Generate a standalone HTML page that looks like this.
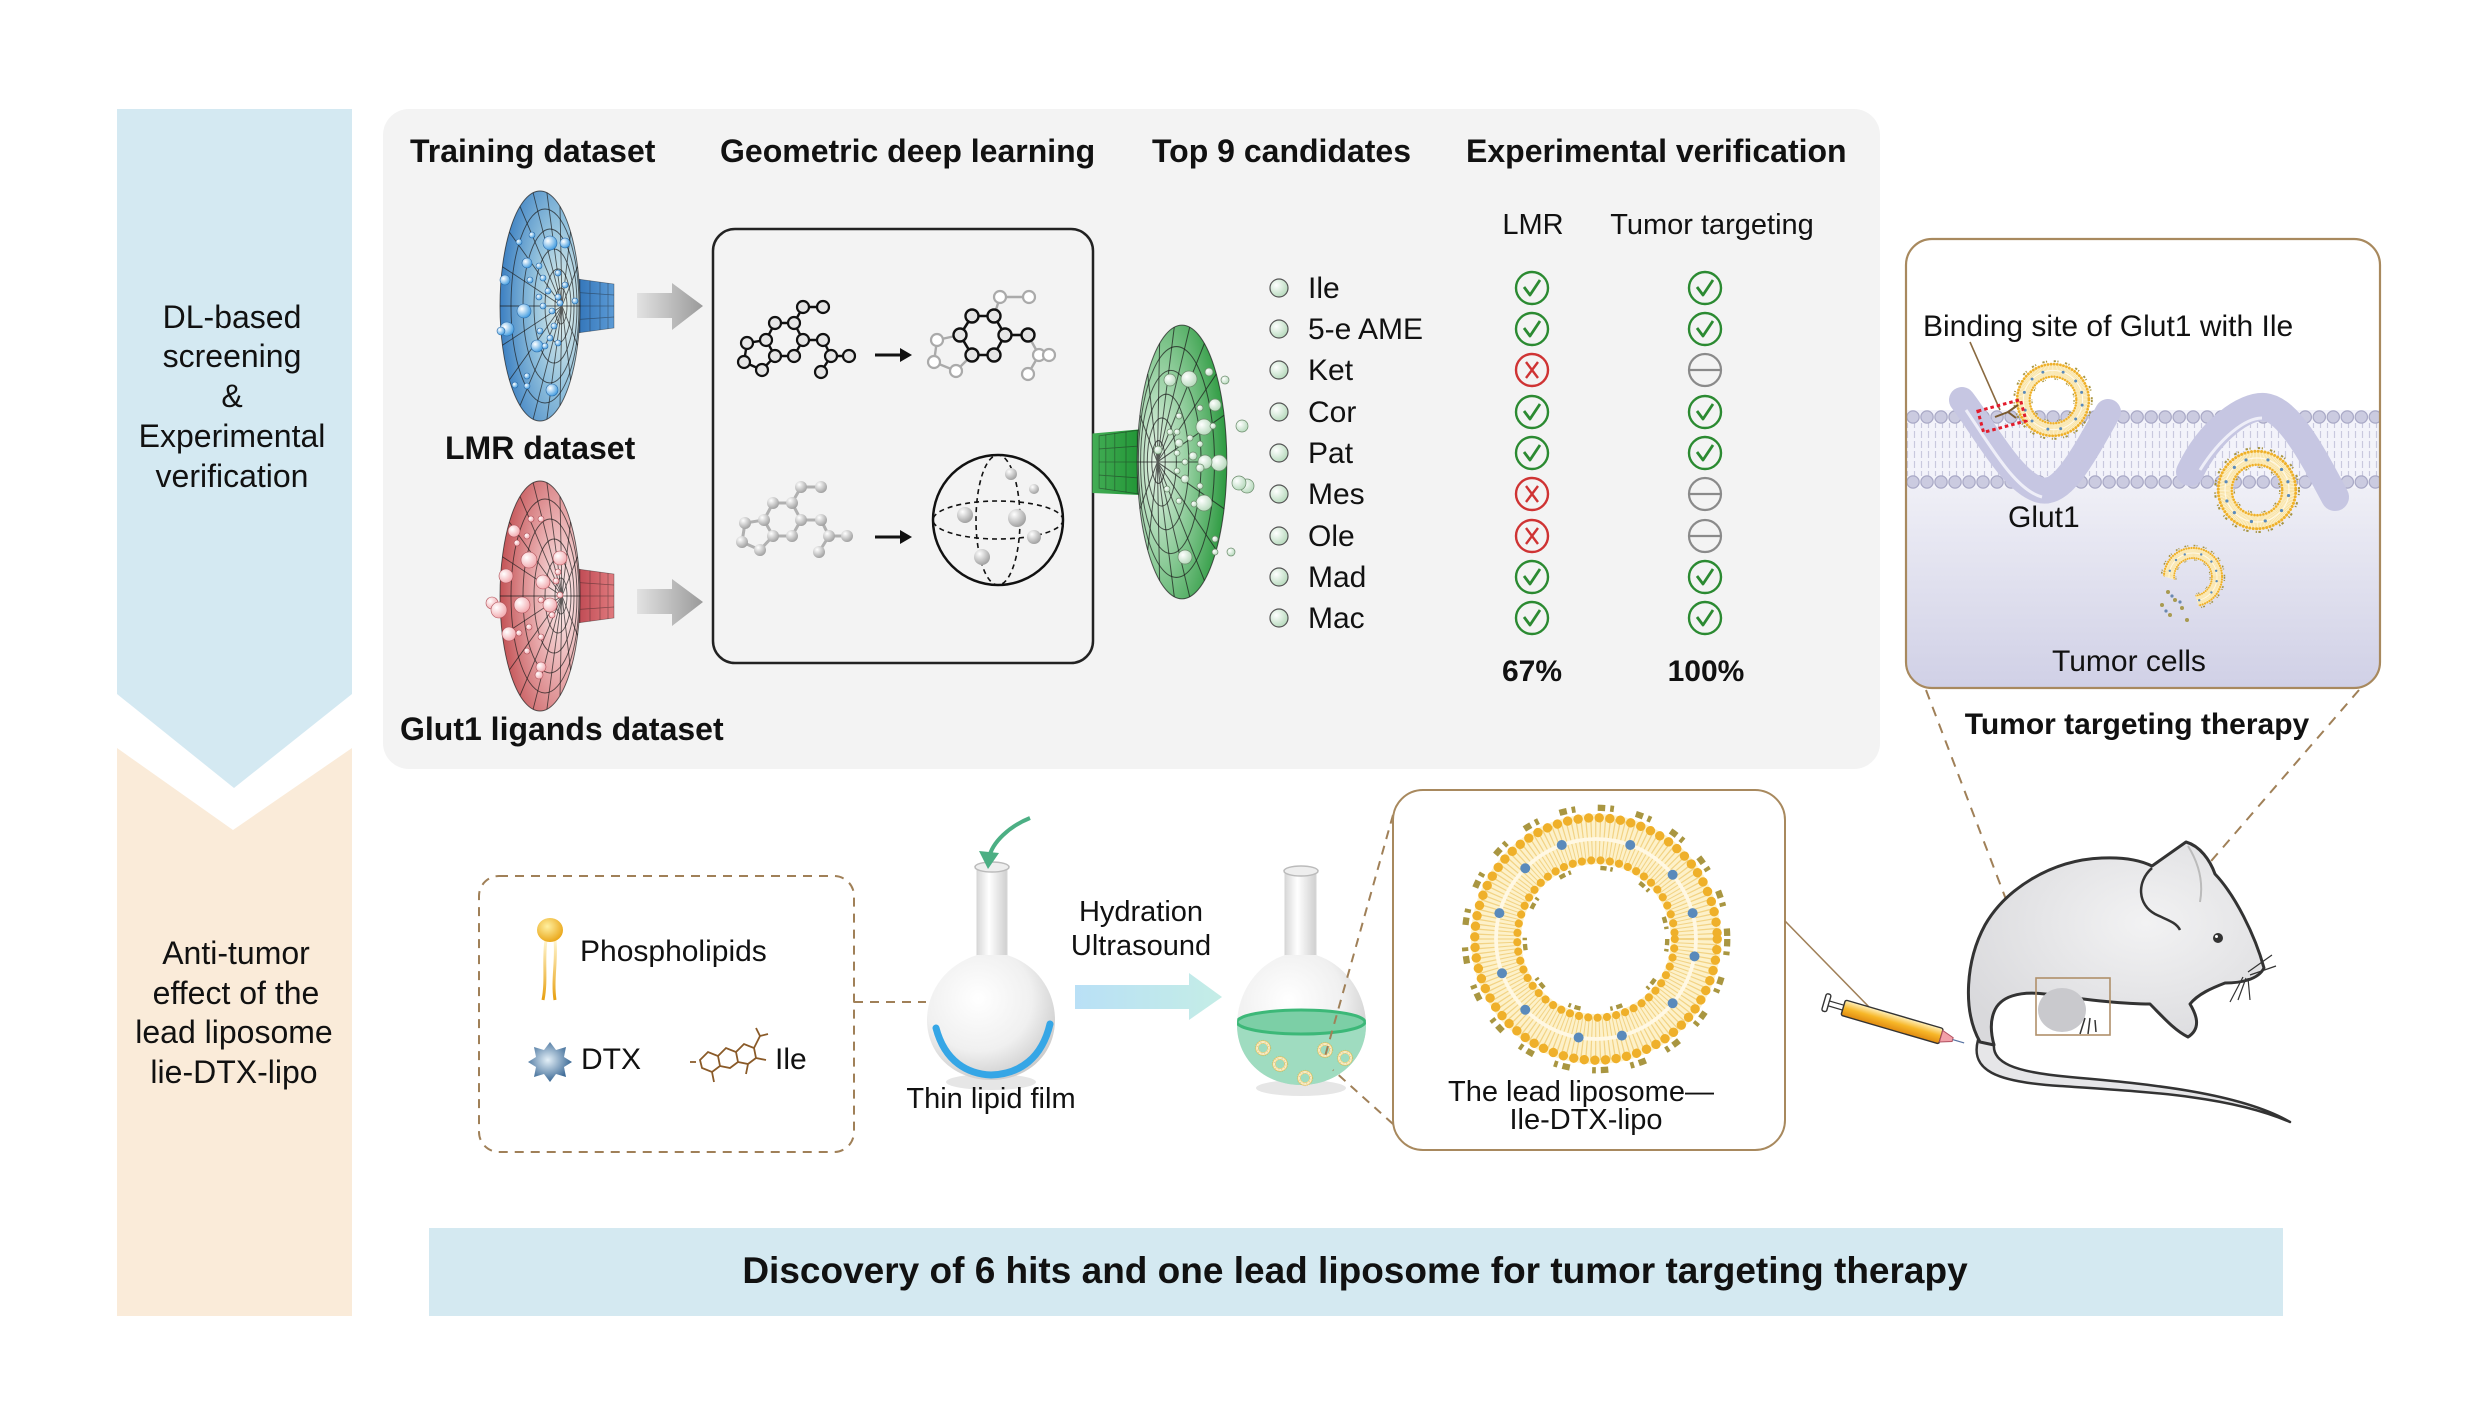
<!DOCTYPE html>
<html><head><meta charset="utf-8"><style>
html,body{margin:0;padding:0;background:#fff;}
svg{display:block;}
text{font-family:"Liberation Sans",Arial,sans-serif;fill:#111;}
.h{font-weight:bold;font-size:32px;}
.r30{font-size:30px;}
.r29{font-size:29px;}
</style></head><body>
<svg width="2482" height="1404" viewBox="0 0 2482 1404" xmlns="http://www.w3.org/2000/svg">
<defs>
  <radialGradient id="gBlue" cx="0.78" cy="0.5" r="0.85"><stop offset="0" stop-color="#e6f2ec"/><stop offset="0.45" stop-color="#8fbfdc"/><stop offset="1" stop-color="#2d74bd"/></radialGradient>
  <radialGradient id="gRed" cx="0.78" cy="0.5" r="0.85"><stop offset="0" stop-color="#fdf0f0"/><stop offset="0.45" stop-color="#e6a4a6"/><stop offset="1" stop-color="#bd4447"/></radialGradient>
  <radialGradient id="gGreen" cx="0.78" cy="0.5" r="0.85"><stop offset="0" stop-color="#e6f3e8"/><stop offset="0.45" stop-color="#8ccb98"/><stop offset="1" stop-color="#1b9130"/></radialGradient>
  <linearGradient id="tBlue" x1="0" x2="1"><stop offset="0" stop-color="#2a6db3"/><stop offset="1" stop-color="#5c9bd6"/></linearGradient>
  <linearGradient id="tRed" x1="0" x2="1"><stop offset="0" stop-color="#b8404a"/><stop offset="1" stop-color="#e07a7e"/></linearGradient>
  <linearGradient id="tGreen" x1="0" x2="1"><stop offset="0" stop-color="#1b9130"/><stop offset="1" stop-color="#43ad55"/></linearGradient>
  <radialGradient id="bB" cx="0.35" cy="0.35" r="0.7"><stop offset="0" stop-color="#ffffff"/><stop offset="1" stop-color="#3f9be0"/></radialGradient>
  <radialGradient id="bR" cx="0.35" cy="0.35" r="0.7"><stop offset="0" stop-color="#ffffff"/><stop offset="1" stop-color="#f2a8ad"/></radialGradient>
  <radialGradient id="bG" cx="0.35" cy="0.35" r="0.7"><stop offset="0" stop-color="#ffffff"/><stop offset="1" stop-color="#b5d9bb"/></radialGradient>
  <radialGradient id="ball" cx="0.35" cy="0.3" r="0.75"><stop offset="0" stop-color="#ffffff"/><stop offset="1" stop-color="#9c9c9c"/></radialGradient>
  <linearGradient id="garrow" x1="0" x2="1"><stop offset="0" stop-color="#e2e2e2"/><stop offset="1" stop-color="#9a9a9a"/></linearGradient>
  <linearGradient id="cellBg" x1="0" y1="0" x2="0" y2="1"><stop offset="0" stop-color="#efeff6"/><stop offset="1" stop-color="#d0d0e6"/></linearGradient>
  <pattern id="tails" width="7" height="10" patternUnits="userSpaceOnUse"><line x1="3.5" y1="1" x2="3.5" y2="8" stroke="#c9c9de" stroke-width="1.2"/></pattern>
  <radialGradient id="flaskG" cx="0.4" cy="0.35" r="0.7"><stop offset="0" stop-color="#ffffff"/><stop offset="0.6" stop-color="#f0f0f0"/><stop offset="1" stop-color="#c9c9c9"/></radialGradient>
  <linearGradient id="neckG" x1="0" x2="1"><stop offset="0" stop-color="#d8d8d8"/><stop offset="0.4" stop-color="#ffffff"/><stop offset="1" stop-color="#cfcfcf"/></linearGradient>
  <linearGradient id="blueArrow" x1="0" x2="1"><stop offset="0" stop-color="#b9e0f6"/><stop offset="1" stop-color="#c4ede6"/></linearGradient>
  <radialGradient id="headG" cx="0.4" cy="0.35" r="0.7"><stop offset="0" stop-color="#fff0a0"/><stop offset="1" stop-color="#e9a313"/></radialGradient>
  <linearGradient id="tailG" x1="0" y1="0" x2="0" y2="1"><stop offset="0" stop-color="#fff6d0"/><stop offset="1" stop-color="#e8a010"/></linearGradient>
  <radialGradient id="dtxG" cx="0.45" cy="0.45" r="0.6"><stop offset="0" stop-color="#e4f0f8"/><stop offset="1" stop-color="#2b5c8c"/></radialGradient>
  <linearGradient id="syrG" x1="0" y1="0" x2="0" y2="1"><stop offset="0" stop-color="#fff2c0"/><stop offset="0.5" stop-color="#f7b728"/><stop offset="1" stop-color="#e08a10"/></linearGradient>
  <radialGradient id="mouseG" cx="0.6" cy="0.4" r="0.7"><stop offset="0" stop-color="#f2f2f3"/><stop offset="1" stop-color="#d9d9dc"/></radialGradient>

  <g id="grid" fill="none" stroke="#1a1a1a" stroke-width="0.9" stroke-opacity="0.7">
    <ellipse cx="0" cy="0" rx="40" ry="115"/>
    <ellipse cx="5" cy="0" rx="34" ry="97"/>
    <ellipse cx="10" cy="0" rx="27" ry="77"/>
    <ellipse cx="14" cy="0" rx="20" ry="57"/>
    <ellipse cx="18" cy="0" rx="13" ry="37"/>
    <ellipse cx="21" cy="0" rx="6" ry="18"/>
    <path d="M22,0L40,0M22,0L37.6,39.3M22,0L30.6,73.9M22,0L20,99.6M22,0L6.9,113.3M22,0L-6.9,113.3M22,0L-20,99.6M22,0L-30.6,73.9M22,0L-37.6,39.3M22,0L-40,0M22,0L-37.6,-39.3M22,0L-30.6,-73.9M22,0L-20,-99.6M22,0L-6.9,-113.3M22,0L6.9,-113.3M22,0L20,-99.6M22,0L30.6,-73.9M22,0L37.6,-39.3"/>
  </g>
  <g id="tgrid" fill="none" stroke="#1a1a1a" stroke-width="0.7" stroke-opacity="0.45">
    <path d="M30,-28L74,-22L74,22L30,28Z"/>
    <path d="M40,-27L40,27M50,-25.5L50,25.5M60,-24L60,24M68,-23L68,23M30,-14L74,-11M30,0L74,0M30,14L74,11"/>
  </g>

  <g id="ok"><circle r="16" fill="none" stroke="#2b8a31" stroke-width="2.4"/><path d="M-8,-1L-2,7L8,-8" fill="none" stroke="#2b8a31" stroke-width="2.8" stroke-linejoin="round"/></g>
  <g id="no"><circle r="16" fill="none" stroke="#cf3333" stroke-width="2.4"/><path d="M-6,-8L6,8M6,-8L-6,8" fill="none" stroke="#cf3333" stroke-width="2.4"/></g>
  <g id="na"><circle r="16" fill="none" stroke="#8a8a8a" stroke-width="2.2"/><path d="M-16,0L16,0" stroke="#8a8a8a" stroke-width="2.2"/></g>

  <g id="molB">
    <path d="M747,343L744,362L762,370L775,356L766,340Z M766,340L775,323L794,323L803,340L794,356L775,356 M794,323L803,307L823,307 M803,340L823,340L831,356L849,356 M831,356L821,372"/>
  </g>
  <g id="molA">
    <circle cx="747" cy="343" r="6"/><circle cx="744" cy="362" r="6"/><circle cx="762" cy="370" r="6"/><circle cx="775" cy="356" r="6"/><circle cx="766" cy="340" r="6"/><circle cx="775" cy="323" r="6"/><circle cx="794" cy="323" r="6"/><circle cx="803" cy="340" r="6"/><circle cx="794" cy="356" r="6"/><circle cx="803" cy="307" r="6"/><circle cx="823" cy="307" r="6"/><circle cx="823" cy="340" r="6"/><circle cx="831" cy="356" r="6"/><circle cx="849" cy="356" r="6"/><circle cx="821" cy="372" r="6"/>
  </g>

  <g id="lipo">
    <circle r="80" fill="none" stroke="#fdf1c9" stroke-width="40"/>
    <circle r="80" fill="none" stroke="#eab94a" stroke-width="34" stroke-dasharray="0.9 2.4" stroke-opacity="0.55"/>
    <circle r="80" fill="none" stroke="#fff8e4" stroke-width="3"/>
    <circle r="97" fill="none" stroke="#efb02a" stroke-width="7.5" stroke-dasharray="0.01 8.5" stroke-linecap="round"/>
    <circle r="63" fill="none" stroke="#efb02a" stroke-width="6.5" stroke-dasharray="0.01 7.5" stroke-linecap="round"/>
    <circle r="105" fill="none" stroke="#9a8420" stroke-width="5" stroke-dasharray="6 4 3 18" stroke-opacity="0.85"/>
    <circle r="57" fill="none" stroke="#9a8420" stroke-width="3.5" stroke-dasharray="5 3 2 24" stroke-opacity="0.85"/>
    <g fill="#5a8abb"><circle cx="78.8" cy="13.9" r="4"/><circle cx="61.3" cy="51.4" r="4"/><circle cx="20.7" cy="77.3" r="4"/><circle cx="-13.9" cy="78.8" r="4"/><circle cx="-56.6" cy="56.6" r="4"/><circle cx="-75.2" cy="27.4" r="4"/><circle cx="-77.3" cy="-20.7" r="4"/><circle cx="-56.6" cy="-56.6" r="4"/><circle cx="-27.4" cy="-75.2" r="4"/><circle cx="27.4" cy="-75.2" r="4"/><circle cx="61.3" cy="-51.4" r="4"/><circle cx="77.3" cy="-20.7" r="4"/></g>
  </g>

  <clipPath id="cellClip"><rect x="1906" y="239" width="474" height="449" rx="26"/></clipPath>
  <clipPath id="brokenClip"><path d="M2150,535L2240,535L2240,625L2205,625L2192,585L2150,572Z"/></clipPath>
  <clipPath id="bulb2"><path d="M1285,955 C1255,965 1237,995 1237,1025 C1237,1060 1265,1085 1301,1085 C1337,1085 1366,1060 1366,1025 C1366,995 1347,965 1316,955 Z"/></clipPath>
</defs>

<!-- left bands -->
<polygon points="117,109 352,109 352,694 234,788 117,694" fill="#d4e9f2"/>
<polygon points="117,748 233,830 352,748 352,1316 117,1316" fill="#faebd9"/>
<g text-anchor="middle" style="font-size:32px">
  <text x="232" y="328">DL-based</text>
  <text x="232" y="367">screening</text>
  <text x="232" y="407">&amp;</text>
  <text x="232" y="447">Experimental</text>
  <text x="232" y="487">verification</text>
</g>
<g text-anchor="middle" style="font-size:32px">
  <text x="236" y="964">Anti-tumor</text>
  <text x="236" y="1004">effect of the</text>
  <text x="234" y="1043">lead liposome</text>
  <text x="234" y="1083">lie-DTX-lipo</text>
</g>

<!-- gray panel -->
<rect x="383" y="109" width="1497" height="660" rx="26" fill="#f3f3f3"/>
<text class="h" x="410" y="162">Training dataset</text>
<text class="h" x="720" y="162">Geometric deep learning</text>
<text class="h" x="1152" y="162">Top 9 candidates</text>
<text class="h" x="1466" y="162">Experimental verification</text>
<text class="r29" x="1533" y="234" text-anchor="middle">LMR</text>
<text class="r29" x="1712" y="234" text-anchor="middle">Tumor targeting</text>

<!-- blue funnel -->
<g transform="translate(540,306)">
  <path d="M30,-28L74,-22L74,22L30,28Z" fill="url(#tBlue)"/>
  <use href="#tgrid"/>
  <ellipse rx="40" ry="115" fill="url(#gBlue)"/>
  <use href="#grid"/>
</g>
<g fill="url(#bB)" stroke="#2a6aa8" stroke-width="0.6">
  <circle cx="550" cy="243" r="7"/><circle cx="565" cy="243" r="5"/><circle cx="532" cy="235" r="3"/><circle cx="519" cy="242" r="3"/><circle cx="527" cy="263" r="5"/><circle cx="539" cy="266" r="3"/><circle cx="558" cy="273" r="3"/><circle cx="505" cy="280" r="5"/><circle cx="530" cy="280" r="3"/><circle cx="543" cy="278" r="3"/><circle cx="565" cy="285" r="3"/><circle cx="548" cy="291" r="3"/><circle cx="539" cy="297" r="3"/><circle cx="558" cy="297" r="3"/><circle cx="575" cy="301" r="3"/><circle cx="560" cy="303" r="3"/><circle cx="543" cy="306" r="3"/><circle cx="524" cy="311" r="7"/><circle cx="552" cy="311" r="3"/><circle cx="507" cy="329" r="7"/><circle cx="501" cy="331" r="4"/><circle cx="540" cy="331" r="3"/><circle cx="554" cy="326" r="3"/><circle cx="550" cy="338" r="3"/><circle cx="537" cy="346" r="6"/><circle cx="545" cy="346" r="3"/><circle cx="558" cy="343" r="3"/><circle cx="527" cy="376" r="3"/><circle cx="515" cy="385" r="3"/><circle cx="527" cy="386" r="3"/><circle cx="552" cy="390" r="6"/>
</g>
<text class="h" x="445" y="459">LMR dataset</text>

<!-- red funnel -->
<g transform="translate(540,596)">
  <path d="M30,-28L74,-22L74,22L30,28Z" fill="url(#tRed)"/>
  <use href="#tgrid"/>
  <ellipse rx="40" ry="115" fill="url(#gRed)"/>
  <use href="#grid"/>
</g>
<g fill="url(#bR)" stroke="#b05058" stroke-width="0.6">
  <circle cx="531" cy="519" r="3"/><circle cx="541" cy="519" r="3"/><circle cx="514" cy="531" r="6"/><circle cx="527" cy="536" r="3"/><circle cx="517" cy="543" r="3"/><circle cx="506" cy="576" r="7"/><circle cx="529" cy="560" r="8"/><circle cx="560" cy="558" r="7"/><circle cx="543" cy="582" r="7"/><circle cx="556" cy="581" r="3"/><circle cx="558" cy="572" r="3"/><circle cx="492" cy="603" r="6"/><circle cx="499" cy="610" r="8"/><circle cx="522" cy="605" r="8"/><circle cx="550" cy="605" r="7"/><circle cx="541" cy="600" r="3"/><circle cx="560" cy="595" r="3"/><circle cx="529" cy="627" r="3"/><circle cx="509" cy="634" r="7"/><circle cx="519" cy="633" r="3"/><circle cx="541" cy="637" r="3"/><circle cx="552" cy="615" r="3"/><circle cx="527" cy="651" r="3"/><circle cx="541" cy="667" r="5"/><circle cx="539" cy="675" r="4"/>
</g>
<text class="h" x="400" y="740">Glut1 ligands dataset</text>

<!-- gray arrows -->
<polygon points="637,293 672,293 672,283 703,306 672,330 672,318 637,318" fill="url(#garrow)"/>
<polygon points="637,589 672,589 672,579 703,602 672,626 672,614 637,614" fill="url(#garrow)"/>

<!-- GDL box -->
<rect x="713" y="229" width="380" height="434" rx="22" fill="none" stroke="#222" stroke-width="2.5"/>
<use href="#molB" fill="none" stroke="#111" stroke-width="2.4"/>
<use href="#molA" fill="#e6e6e6" stroke="#111" stroke-width="2.2"/>
<g fill="none" stroke="#aaa" stroke-width="2.4">
  <path d="M960,335L937,340L934,362L956,371L972,355 M994,316L1000,297L1029,297 M1005,335L1028,335L1039,355L1049,355 M1039,355L1028,374"/>
</g>
<g fill="#fff" stroke="#aaa" stroke-width="2.2">
  <circle cx="1000" cy="297" r="6"/><circle cx="1029" cy="297" r="6"/><circle cx="937" cy="340" r="6"/><circle cx="934" cy="362" r="6"/><circle cx="956" cy="371" r="6"/><circle cx="1039" cy="355" r="6"/><circle cx="1049" cy="355" r="6"/><circle cx="1028" cy="374" r="6"/>
</g>
<g fill="none" stroke="#111" stroke-width="2.6"><path d="M972,316L994,316L1005,335L994,355L972,355L960,335Z M1005,335L1028,335"/></g>
<g fill="#e6e6e6" stroke="#111" stroke-width="2.4">
  <circle cx="972" cy="316" r="6.5"/><circle cx="994" cy="316" r="6.5"/><circle cx="1005" cy="335" r="6.5"/><circle cx="994" cy="355" r="6.5"/><circle cx="972" cy="355" r="6.5"/><circle cx="960" cy="335" r="6.5"/><circle cx="1028" cy="335" r="6.5"/>
</g>
<g stroke="#111" stroke-width="3"><line x1="875" y1="355" x2="902" y2="355"/><line x1="875" y1="537" x2="902" y2="537"/></g>
<polygon points="900,348 912,355 900,362" fill="#111"/><polygon points="900,530 912,537 900,544" fill="#111"/>
<g transform="translate(-2,180)">
  <use href="#molB" fill="none" stroke="#b0b0b0" stroke-width="3"/>
  <use href="#molA" fill="url(#ball)" stroke="none"/>
</g>
<circle cx="998" cy="520" r="65" fill="none" stroke="#111" stroke-width="2.5"/>
<ellipse cx="998" cy="520" rx="65" ry="19" fill="none" stroke="#111" stroke-width="1.6" stroke-dasharray="5 4"/>
<ellipse cx="998" cy="520" rx="22" ry="65" fill="none" stroke="#111" stroke-width="1.6" stroke-dasharray="5 4"/>
<g fill="url(#ball)"><circle cx="1011" cy="474" r="6"/><circle cx="1034" cy="489" r="5"/><circle cx="965" cy="515" r="8"/><circle cx="1017" cy="518" r="9"/><circle cx="1034" cy="537" r="7"/><circle cx="982" cy="557" r="8"/></g>

<!-- green funnel -->
<g transform="translate(1182,462) scale(-1.12,1.19)">
  <path d="M30,-28L80,-24L80,26L30,28Z" fill="url(#tGreen)"/>
  <use href="#tgrid"/>
  <ellipse rx="40" ry="115" fill="url(#gGreen)"/>
  <use href="#grid"/>
</g>
<g fill="url(#bG)" stroke="#6a8a6a" stroke-width="0.7">
  <circle cx="1170" cy="380" r="6"/><circle cx="1189" cy="379" r="8"/><circle cx="1209" cy="372" r="4"/><circle cx="1225" cy="380" r="4"/><circle cx="1215" cy="405" r="6"/><circle cx="1200" cy="408" r="3"/><circle cx="1179" cy="416" r="3"/><circle cx="1204" cy="427" r="8"/><circle cx="1242" cy="426" r="6"/><circle cx="1213" cy="426" r="3"/><circle cx="1170" cy="432" r="3"/><circle cx="1177" cy="432" r="3"/><circle cx="1190" cy="438" r="3"/><circle cx="1179" cy="443" r="4"/><circle cx="1158" cy="450" r="4"/><circle cx="1200" cy="444" r="3"/><circle cx="1177" cy="453" r="3"/><circle cx="1193" cy="456" r="4"/><circle cx="1219" cy="463" r="8"/><circle cx="1205" cy="462" r="7"/><circle cx="1185" cy="462" r="3"/><circle cx="1200" cy="468" r="4"/><circle cx="1177" cy="471" r="3"/><circle cx="1185" cy="479" r="4"/><circle cx="1247" cy="486" r="7"/><circle cx="1239" cy="483" r="7"/><circle cx="1200" cy="486" r="3"/><circle cx="1167" cy="489" r="3"/><circle cx="1204" cy="503" r="8"/><circle cx="1194" cy="504" r="3"/><circle cx="1179" cy="501" r="3"/><circle cx="1215" cy="539" r="3"/><circle cx="1215" cy="552" r="3"/><circle cx="1231" cy="552" r="4"/><circle cx="1185" cy="557" r="7"/>
</g>

<!-- candidate list -->
<g fill="url(#bG)" stroke="#555" stroke-width="1.2">
  <circle cx="1279" cy="288" r="9"/><circle cx="1279" cy="329" r="9"/><circle cx="1279" cy="370" r="9"/><circle cx="1279" cy="412" r="9"/><circle cx="1279" cy="453" r="9"/><circle cx="1279" cy="494" r="9"/><circle cx="1279" cy="536" r="9"/><circle cx="1279" cy="577" r="9"/><circle cx="1279" cy="618" r="9"/>
</g>
<g class="r30">
  <text x="1308" y="298">Ile</text>
  <text x="1308" y="339">5-e AME</text>
  <text x="1308" y="380">Ket</text>
  <text x="1308" y="422">Cor</text>
  <text x="1308" y="463">Pat</text>
  <text x="1308" y="504">Mes</text>
  <text x="1308" y="546">Ole</text>
  <text x="1308" y="587">Mad</text>
  <text x="1308" y="628">Mac</text>
</g>
<use href="#ok" transform="translate(1532,288)"/><use href="#ok" transform="translate(1705,288)"/>
<use href="#ok" transform="translate(1532,329)"/><use href="#ok" transform="translate(1705,329)"/>
<use href="#no" transform="translate(1532,370)"/><use href="#na" transform="translate(1705,370)"/>
<use href="#ok" transform="translate(1532,412)"/><use href="#ok" transform="translate(1705,412)"/>
<use href="#ok" transform="translate(1532,453)"/><use href="#ok" transform="translate(1705,453)"/>
<use href="#no" transform="translate(1532,494)"/><use href="#na" transform="translate(1705,494)"/>
<use href="#no" transform="translate(1532,536)"/><use href="#na" transform="translate(1705,536)"/>
<use href="#ok" transform="translate(1532,577)"/><use href="#ok" transform="translate(1705,577)"/>
<use href="#ok" transform="translate(1532,618)"/><use href="#ok" transform="translate(1705,618)"/>
<text x="1532" y="681" text-anchor="middle" style="font-weight:bold;font-size:30px">67%</text>
<text x="1706" y="681" text-anchor="middle" style="font-weight:bold;font-size:30px">100%</text>

<!-- right cell box -->
<g clip-path="url(#cellClip)">
  <rect x="1906" y="239" width="474" height="449" fill="#fff"/>
  <rect x="1906" y="488" width="474" height="200" fill="url(#cellBg)"/>
  <rect x="1906" y="410" width="474" height="78" fill="#f3f3fa"/>
  <rect x="1906" y="423" width="474" height="53" fill="url(#tails)"/>
  <line x1="1913" y1="417" x2="2380" y2="417" stroke="#a9a9c6" stroke-width="13.5" stroke-dasharray="0.01 14" stroke-linecap="round"/>
  <line x1="1913" y1="417" x2="2380" y2="417" stroke="#cbcbe0" stroke-width="11" stroke-dasharray="0.01 14" stroke-linecap="round"/>
  <line x1="1913" y1="482" x2="2380" y2="482" stroke="#a9a9c6" stroke-width="13.5" stroke-dasharray="0.01 14" stroke-linecap="round"/>
  <line x1="1913" y1="482" x2="2380" y2="482" stroke="#cbcbe0" stroke-width="11" stroke-dasharray="0.01 14" stroke-linecap="round"/>
  <path d="M1962,400 C1985,430 2012,482 2040,490 C2062,496 2082,458 2108,412" fill="none" stroke="#c6c6e2" stroke-width="26" stroke-linecap="round"/>
  <path d="M1966,410 C1990,445 2015,490 2042,497" fill="none" stroke="#eeeef8" stroke-width="3"/>
  <path d="M2190,472 C2210,430 2245,405 2265,407 C2290,410 2315,460 2335,497" fill="none" stroke="#c6c6e2" stroke-width="28" stroke-linecap="round"/>
  <path d="M2200,470 C2220,438 2245,418 2262,418" fill="none" stroke="#eeeef8" stroke-width="3"/>
  <use href="#lipo" transform="translate(2053,400) scale(0.37)"/>
  <use href="#lipo" transform="translate(2257,490) scale(0.4)"/>
  <g clip-path="url(#brokenClip)"><use href="#lipo" transform="translate(2193,577) scale(0.3)"/></g>
  <g fill="#a89a50"><circle cx="2168" cy="592" r="2"/><circle cx="2175" cy="600" r="2"/><circle cx="2162" cy="605" r="2"/><circle cx="2182" cy="608" r="2"/><circle cx="2170" cy="615" r="2"/><circle cx="2187" cy="620" r="2"/></g>
  <g fill="#6a88b0"><circle cx="2172" cy="596" r="1.6"/><circle cx="2180" cy="602" r="1.6"/><circle cx="2166" cy="611" r="1.6"/></g>
  <line x1="1970" y1="342" x2="2000" y2="410" stroke="#8a6a40" stroke-width="1.6"/>
  <path d="M1995,417 L2008,412 L2018,405 M2008,412 L2016,418" fill="none" stroke="#7a5a30" stroke-width="2"/>
  <rect x="1980" y="405" width="44" height="22" fill="none" stroke="#e21c2c" stroke-width="3" stroke-dasharray="3.5 3" transform="rotate(-15 2002 416)"/>
</g>
<rect x="1906" y="239" width="474" height="449" rx="26" fill="none" stroke="#a8895e" stroke-width="2.2"/>
<text class="r30" x="1923" y="336">Binding site of Glut1 with Ile</text>
<text class="r30" x="2008" y="527">Glut1</text>
<text class="r30" x="2052" y="671">Tumor cells</text>
<text x="2137" y="734" text-anchor="middle" style="font-weight:bold;font-size:30px">Tumor targeting therapy</text>

<g stroke="#a08058" stroke-width="2" stroke-dasharray="10 8" fill="none">
  <line x1="1926" y1="690" x2="2036" y2="978"/>
  <line x1="2359" y1="690" x2="2110" y2="978"/>
</g>

<!-- ingredients box -->
<rect x="479" y="876" width="375" height="276" rx="20" fill="none" stroke="#a08058" stroke-width="2" stroke-dasharray="9 7"/>
<line x1="854" y1="1002" x2="926" y2="1002" stroke="#a08058" stroke-width="2" stroke-dasharray="9 7"/>
<path d="M546,940 C543,960 547,980 543,1000" fill="none" stroke="url(#tailG)" stroke-width="3"/>
<path d="M555,940 C557,960 552,980 555,1000" fill="none" stroke="url(#tailG)" stroke-width="3"/>
<ellipse cx="550" cy="930" rx="13" ry="12" fill="url(#headG)"/>
<text class="r30" x="580" y="961">Phospholipids</text>
<polygon points="550,1042 556,1050 566,1047 564,1057 572,1062 564,1067 566,1077 556,1074 550,1082 544,1074 534,1077 536,1067 528,1062 536,1057 534,1047 544,1050" fill="url(#dtxG)"/>
<text class="r30" x="581" y="1069">DTX</text>
<g fill="none" stroke="#8a5a28" stroke-width="1.8">
  <path d="M700,1060 L708,1052 L718,1056 L720,1066 L712,1072 L702,1068 Z M718,1056 L726,1048 L736,1052 L738,1062 L730,1068 L720,1066 M736,1052 L744,1044 L754,1048 L756,1058 L748,1064 L738,1062 M754,1048 L760,1036 L756,1028 M760,1036 L768,1034 M756,1058 L766,1060 M712,1072 L714,1082 M696,1062 L690,1062 M748,1064 L746,1074"/>
</g>
<text class="r30" x="775" y="1069">Ile</text>

<!-- flask 1 -->
<ellipse cx="991" cy="1082" rx="45" ry="8" fill="#e6e6e6"/>
<rect x="977" y="866" width="30" height="95" fill="url(#neckG)" stroke="#d6d6d6" stroke-width="1"/>
<path d="M977,955 C945,965 927,992 927,1020 C927,1055 955,1080 991,1080 C1027,1080 1055,1055 1055,1020 C1055,992 1038,965 1007,955 Z" fill="url(#flaskG)"/>
<path d="M936,1028 C945,1062 968,1074 991,1075 C1020,1074 1042,1058 1050,1024" fill="none" stroke="#35a6e6" stroke-width="7" stroke-linecap="round"/>
<ellipse cx="992" cy="867" rx="17" ry="5" fill="#eee" stroke="#bbb" stroke-width="1.5"/>
<path d="M1030,818 C1010,826 992,842 989,858" fill="none" stroke="#4caf84" stroke-width="4"/>
<polygon points="979,851 999,853 988,869" fill="#4caf84"/>
<text class="r29" x="991" y="1108" text-anchor="middle">Thin lipid film</text>
<text class="r29" x="1141" y="921" text-anchor="middle">Hydration</text>
<text class="r29" x="1141" y="955" text-anchor="middle">Ultrasound</text>
<polygon points="1075,985 1189,985 1189,973 1222,997 1189,1020 1189,1009 1075,1009" fill="url(#blueArrow)"/>

<!-- flask 2 -->
<ellipse cx="1301" cy="1088" rx="45" ry="8" fill="#e6e6e6"/>
<rect x="1285" y="870" width="31" height="92" fill="url(#neckG)" stroke="#d6d6d6" stroke-width="1"/>
<path d="M1285,955 C1255,965 1237,995 1237,1025 C1237,1060 1265,1085 1301,1085 C1337,1085 1366,1060 1366,1025 C1366,995 1347,965 1316,955 Z" fill="url(#flaskG)"/>
<g clip-path="url(#bulb2)">
  <rect x="1230" y="1022" width="140" height="70" fill="#9fdcc0"/>
  <ellipse cx="1301" cy="1022" rx="64" ry="12" fill="#7ccfa6" stroke="#3cb878" stroke-width="3"/>
</g>
<use href="#lipo" transform="translate(1263,1048) scale(0.075)"/>
<use href="#lipo" transform="translate(1280,1064) scale(0.075)"/>
<use href="#lipo" transform="translate(1305,1078) scale(0.075)"/>
<use href="#lipo" transform="translate(1325,1050) scale(0.075)"/>
<use href="#lipo" transform="translate(1345,1058) scale(0.075)"/>
<ellipse cx="1301" cy="871" rx="17" ry="5" fill="#eee" stroke="#bbb" stroke-width="1.5"/>
<g stroke="#a08058" stroke-width="2" stroke-dasharray="9 7">
  <line x1="1393" y1="815" x2="1324" y2="1060"/>
  <line x1="1393" y1="1124" x2="1333" y2="1070"/>
</g>

<!-- lipo box -->
<rect x="1393" y="790" width="392" height="360" rx="30" fill="#fff" stroke="#a8895e" stroke-width="2"/>
<use href="#lipo" transform="translate(1596,939) scale(1.25)"/>
<text class="r29" x="1581" y="1101" text-anchor="middle">The lead liposome—</text>
<text class="r29" x="1586" y="1129" text-anchor="middle">Ile-DTX-lipo</text>
<line x1="1785" y1="921" x2="1870" y2="1008" stroke="#a08058" stroke-width="1.6"/>

<!-- syringe -->
<g transform="translate(1824,1002) rotate(16.3)">
  <rect x="0" y="-9" width="5" height="18" rx="2" fill="#fff" stroke="#333" stroke-width="1.4"/>
  <rect x="5" y="-2.5" width="17" height="5" fill="#fff" stroke="#333" stroke-width="1.2"/>
  <rect x="20" y="-8" width="102" height="16" rx="2" fill="url(#syrG)" stroke="#333" stroke-width="1.4"/>
  <polygon points="122,-6 134,-2 134,2 122,6" fill="#f2a0a8" stroke="#b05060" stroke-width="1"/>
  <line x1="134" y1="0" x2="146" y2="0" stroke="#5570a0" stroke-width="1.2"/>
</g>

<!-- mouse -->
<path d="M1978,1040 C1970,1070 1995,1082 2060,1086 C2150,1092 2230,1096 2290,1122 C2240,1093 2150,1084 2070,1077 C2012,1072 1992,1062 1994,1044 Z" fill="#e6e6e8" stroke="#333" stroke-width="2.5" stroke-linejoin="round"/>
<path d="M1980,1042 C1962,1010 1966,960 1985,925 C2005,890 2050,860 2102,858 C2125,857 2140,860 2152,866 L2186,842 C2200,846 2210,860 2215,874 C2235,895 2255,935 2264,968 C2258,980 2240,983 2225,983 C2212,988 2198,994 2190,1004 C2196,1014 2202,1028 2188,1037 C2174,1030 2162,1016 2150,1004 C2120,1004 2080,999 2045,994 C2020,991 2000,996 1994,1012 C1990,1022 1991,1034 1994,1045 Z" fill="url(#mouseG)" stroke="#333" stroke-width="3" stroke-linejoin="round"/>
<path d="M2152,868 C2136,882 2138,905 2155,914 C2167,920 2176,922 2180,930" fill="none" stroke="#333" stroke-width="2.5"/>
<path d="M2188,846 C2198,862 2204,880 2200,902" fill="none" stroke="#bbb" stroke-width="2"/>
<circle cx="2218" cy="938" r="5" fill="#333"/><circle cx="2216.5" cy="936.5" r="1.5" fill="#fff"/>
<g stroke="#333" stroke-width="1.2" fill="none">
  <path d="M2248,972 L2272,955 M2250,975 L2276,966 M2246,978 L2238,1000 M2243,977 L2230,1002 M2248,978 L2250,1000"/>
</g>
<ellipse cx="2062" cy="1010" rx="24" ry="22" fill="#c9c9cd"/>
<path d="M2085,1018 L2080,1034 M2090,1018 L2088,1034 M2095,1020 L2096,1032" stroke="#333" stroke-width="1.5"/>
<rect x="2036" y="978" width="74" height="57" fill="none" stroke="#b0906a" stroke-width="1.6"/>

<!-- bottom banner -->
<rect x="429" y="1228" width="1854" height="88" fill="#d4e9f1"/>
<text x="1355" y="1283" text-anchor="middle" style="font-weight:bold;font-size:37px">Discovery of 6 hits and one lead liposome for tumor targeting therapy</text>
</svg>
</body></html>
